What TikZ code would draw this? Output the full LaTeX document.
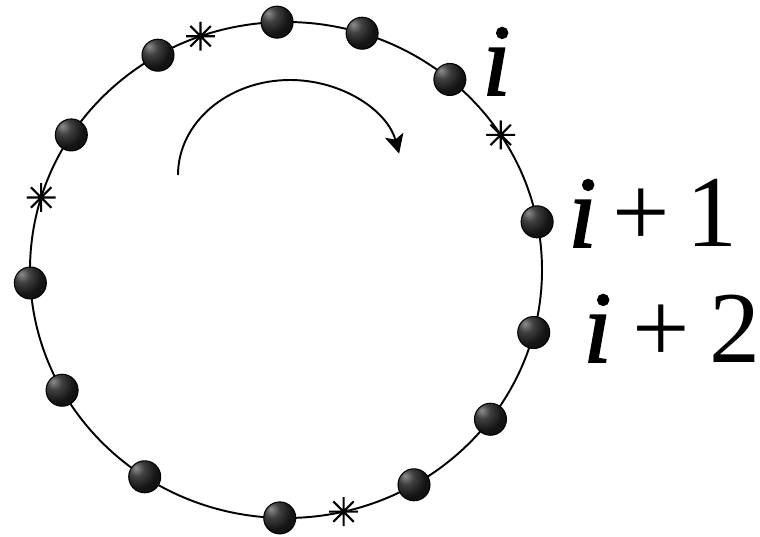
\documentclass[tikz,border=0pt]{standalone}
\usepackage{fontspec}
\setmainfont{Liberation Serif}
\newfontface\sitefont{Liberation Serif Italic}[FakeBold=1.6]
\usetikzlibrary{arrows.meta}
\definecolor{ringblack}{RGB}{20, 20, 20}
\pgfdeclareradialshading{beadshade}{\pgfpoint{-14bp}{14bp}}{color(0bp)=(black!45); color(12bp)=(black!75); color(28bp)=(ringblack); color(100bp)=(black)}

\tikzset{
  bead/.style={circle, draw=black, line width=0.6pt, shading=beadshade, minimum size=0.64cm, inner sep=0pt},
  asterisk/.style={circle, minimum size=0.58cm, inner sep=0pt,
    path picture={\draw[line width=1.2pt, black]
      (path picture bounding box.north) -- (path picture bounding box.south)
      (path picture bounding box.east) -- (path picture bounding box.west)
      (path picture bounding box.north east) -- (path picture bounding box.south west)
      (path picture bounding box.north west) -- (path picture bounding box.south east);}},
  lbl/.style={anchor=base west, inner sep=0pt, font=\fontsize{58}{64}\selectfont}
}

\begin{document}
\begin{tikzpicture}[x=0.02cm, y=0.02cm]
\useasboundingbox (-286,-267) rectangle (474,270);
% the ring
\draw[line width=1.1pt] (0,0) ellipse [x radius=256, y radius=248];

% beads on the ring
\node[bead] (b1) at (92:256 and 248) {};
\node[bead] (b2) at (72.7:256 and 248) {};
\node[bead] (b3) at (120:256 and 248) {};
\node[bead] (b4) at (50.2:256 and 248) {};
\node[bead] (b5) at (147:256 and 248) {};
\node[bead] (b6) at (11.2:256 and 248) {};
\node[bead] (b7) at (183:256 and 248) {};
\node[bead] (b8) at (-14.6:256 and 248) {};
\node[bead] (b9) at (209:256 and 248) {};
\node[bead] (b10) at (-37:256 and 248) {};
\node[bead] (b11) at (236.5:256 and 248) {};
\node[bead] (b12) at (-60:256 and 248) {};
\node[bead] (b13) at (268.6:256 and 248) {};

% empty sites
\node[asterisk] (s1) at (109.5:256 and 248) {};
\node[asterisk] (s2) at (33:256 and 248) {};
\node[asterisk] (s3) at (163:256 and 248) {};
\node[asterisk] (s4) at (283:256 and 248) {};

% site labels
\node[lbl] (lbli) at (196,175) {{\sitefont i}};
\node[lbl] (lbla) at (282,23) {{\sitefont i}\hspace{0.16em}+\hspace{0.16em}1};
\node[lbl] (lblb) at (297,-92) {{\sitefont i}\hspace{0.2em}+\hspace{0.2em}2};

% direction of motion
\coordinate (start) at (-108,95);
\draw[line width=1.1pt, -{Stealth[length=0.38cm, width=0.38cm, inset=0.09cm]}] (start) arc [start angle=180, end angle=13, x radius=112, y radius=95];
\end{tikzpicture}
\end{document}
